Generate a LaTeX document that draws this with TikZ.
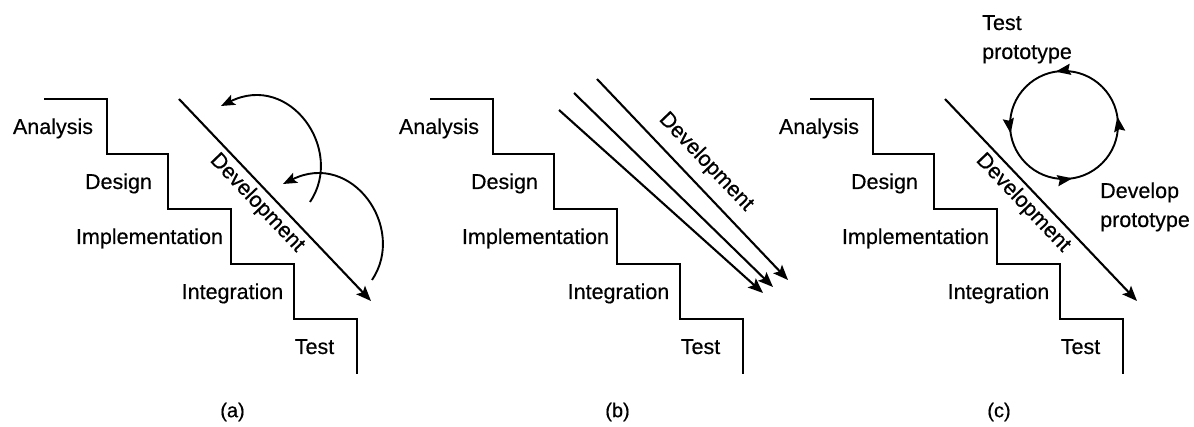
\documentclass[tikz,border=0pt]{standalone}
\usepackage{fontspec}
\setmainfont[FakeBold=0.4]{Liberation Sans}
\usetikzlibrary{arrows.meta,decorations.markings}

\begin{document}
\begin{tikzpicture}[x=1pt,y=-1pt,
  lbl/.style={font=\fontsize{21.5}{29}\selectfont, inner sep=0pt, anchor=base},
  note/.style={font=\fontsize{21.5}{29}\selectfont, inner sep=0pt, anchor=base west, align=left},
  stair/.style={line width=2.7pt, line join=miter, line cap=butt},
  devarrow/.style={line width=2.1pt, -{Stealth[length=15pt,width=12pt,inset=3pt]}},
  devtext/.style={font=\fontsize{21.5}{26}\selectfont, inner sep=0pt, rotate=-46.5},
  looparrow/.style={line width=1.9pt, -{Stealth[length=14pt,width=11pt,inset=3pt]}},
  cyctip/.style={-{Stealth[length=15pt,width=11pt,inset=2pt]}},
  cycle/.style={line width=1.9pt, decoration={markings,
      mark=at position 0.15 with {\arrow{Stealth[length=15pt,width=11pt,inset=2pt]}},
      mark=at position 0.40 with {\arrow{Stealth[length=15pt,width=11pt,inset=2pt]}},
      mark=at position 0.65 with {\arrow{Stealth[length=15pt,width=11pt,inset=2pt]}},
      mark=at position 0.90 with {\arrow{Stealth[length=15pt,width=11pt,inset=2pt]}}},
      postaction=decorate},
  caption/.style={font=\fontsize{20}{24}\selectfont, inner sep=0pt},
  stairs/.pic={
    \coordinate (-s0) at (0,0);
    \coordinate (-s1) at (63,0);
    \coordinate (-s2) at (63,55);
    \coordinate (-s3) at (124,55);
    \coordinate (-s4) at (124,110);
    \coordinate (-s5) at (187,110);
    \coordinate (-s6) at (187,165);
    \coordinate (-s7) at (250,165);
    \coordinate (-s8) at (250,220);
    \coordinate (-s9) at (313,220);
    \coordinate (-s10) at (313,275);
    \draw[stair] (-s0) -- (-s1) -- (-s2) -- (-s3) -- (-s4) -- (-s5) -- (-s6)
      -- (-s7) -- (-s8) -- (-s9) -- (-s10);
    \node[lbl] (-analysis) at (9,35) {Analysis};
    \node[lbl] (-design) at (74.5,90) {Design};
    \node[lbl] (-impl) at (105.5,145) {Implementation};
    \node[lbl] (-integ) at (188.5,200) {Integration};
    \node[lbl] (-test) at (270.5,255) {Test};
  }]

\useasboundingbox (0,0) rectangle (1194,427);

% ---------- (a) waterfall with feedback loops ----------
\pic (pa) at (44,99) {stairs};
\coordinate (da0) at (179,99);
\coordinate (da1) at (371,301);
\draw[devarrow] (da0) -- (da1);
\node[devtext] (dta) at (257,203) {Development};

\coordinate (fa0) at (310,202);
\coordinate (fa1) at (221,106);
\coordinate (fb0) at (372,280);
\coordinate (fb1) at (283,184);
\draw[looparrow] (fa0) .. controls +(35,-52) and +(69,-34) .. (fa1);
\draw[looparrow] (fb0) .. controls +(35,-52) and +(69,-34) .. (fb1);
\node[caption] (capa) at (232.5,412) {(a)};

% ---------- (b) parallel development ----------
\pic (pb) at (430,99) {stairs};
\coordinate (b10) at (559,110);
\coordinate (b11) at (763,293);
\coordinate (b20) at (574,93);
\coordinate (b21) at (773,287);
\coordinate (b30) at (597,79);
\coordinate (b31) at (788,280);
\draw[devarrow] (b10) -- (b11);
\draw[devarrow] (b20) -- (b21);
\draw[devarrow] (b30) -- (b31);
\node[devtext] (dtb) at (706,162) {Development};
\node[caption] (capb) at (617.5,412) {(b)};

% ---------- (c) prototyping cycle ----------
\pic (pc) at (810,99) {stairs};
\coordinate (dc0) at (945,99);
\coordinate (dc1) at (1137,301);
\draw[devarrow] (dc0) -- (dc1);
\node[devtext] (dtc) at (1023,203) {Development};

\coordinate (cyc) at (1064,125);
\draw[cycle] (cyc) ++(45:54) arc[start angle=45, end angle=-315, radius=54];
\node[note] (testproto) at (982,59) {Test\\prototype};
\node[note] (devproto) at (1100,227) {Develop\\prototype};
\node[caption] (capc) at (999,412) {(c)};

\end{tikzpicture}
\end{document}
